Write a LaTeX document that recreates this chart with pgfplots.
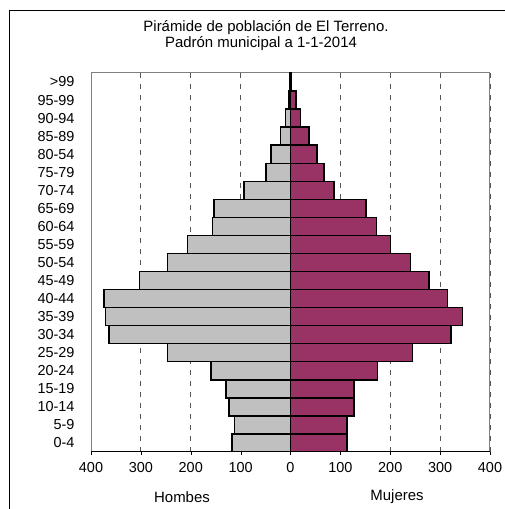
\documentclass[border=0pt]{standalone}
\usepackage{fontspec}
\setmainfont{Liberation Sans}
\usepackage{pgfplots}
\usepackage{pgfplotstable}
\pgfplotsset{compat=1.18}
\definecolor{hombre}{HTML}{C0C0C0}
\definecolor{mujer}{HTML}{993366}
\definecolor{rejilla}{HTML}{555555}

% g = grupo de edad (0 = 0-4 ... 20 = >99), h = hombres, m = mujeres
\pgfplotstableread{
g h m
0 117 113
1 112 113
2 123 127
3 129 127
4 159 175
5 247 245
6 364 322
7 371 345
8 374 315
9 303 278
10 247 241
11 206 201
12 156 172
13 153 151
14 93 87
15 49 67
16 39 53
17 20 37
18 10 20
19 3 11
20 1 1
}\datos

\begin{document}
\begin{tikzpicture}
\useasboundingbox (0,0) rectangle (505bp,509bp);
\draw[black, line width=1bp] (9bp,0) -- (9bp,498bp) -- (505bp,498bp);
\node[font=\fontsize{15}{17}\selectfont] at (266bp,481bp) {Pirámide de población de El Terreno.};
\node[font=\fontsize{15}{17}\selectfont] at (261bp,465bp) {Padrón municipal a 1-1-2014};
\node[font=\fontsize{15}{17}\selectfont] at (182bp,12bp) {Hombes};
\node[font=\fontsize{15}{17}\selectfont] at (397bp,12bp) {Mujeres};
\begin{axis}[
    at={(91bp,57bp)}, anchor=south west,
    scale only axis, width=399bp, height=379bp,
    xmin=-400, xmax=400, ymin=-0.5, ymax=20.5,
    xbar, bar width=1, bar shift=0,
    xtick={-400,-300,...,400},
    xticklabels={400,300,200,100,0,100,200,300,400},
    ytick={0,...,20},
    yticklabels={0-4,5-9,10-14,15-19,20-24,25-29,30-34,35-39,40-44,45-49,50-54,55-59,60-64,65-69,70-74,75-79,80-54,85-89,90-94,95-99,>99},
    ticklabel style={font=\fontsize{14.5}{16}\selectfont},
    xticklabel style={yshift=-4bp},
    yticklabel style={xshift=-10bp},
    xtick pos=bottom, tick align=outside, major tick length=3bp,
    xtick style={black}, ytick style={draw=none},
    axis line style={gray, line width=1bp},
    xmajorgrids, grid style={rejilla, dash pattern=on 5bp off 6bp, line width=0.9bp},
]
\addplot[fill=hombre, draw=black, line width=1.4bp] table[x expr=-\thisrow{h}, y=g]{\datos};
\addplot[fill=mujer, draw=black, line width=1.4bp] table[x=m, y=g]{\datos};
\draw[black, line width=1bp] (rel axis cs:0,0) -- (rel axis cs:1,0);
\end{axis}
\end{tikzpicture}
\end{document}
